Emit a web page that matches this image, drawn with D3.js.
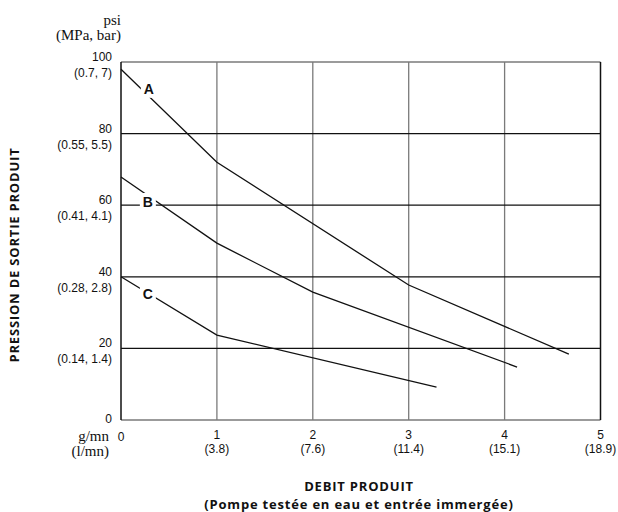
<!DOCTYPE html>
<html lang="fr">
<head>
<meta charset="UTF-8">
<title>Pression de sortie produit</title>
<script src="https://d3js.org/d3.v7.min.js"></script>
<style>
  body { margin: 0; background: #fff; }
  .tick-txt { font-family: "Liberation Sans", Arial, sans-serif; font-size: 12px; fill: #111; }
  .unit-txt { font-family: "Liberation Serif", "Times New Roman", serif; font-size: 15px; fill: #111; }
  .title-txt { font-family: "Open Sans", sans-serif; font-size: 13px; font-weight: bold; fill: #111; letter-spacing: 0.8px; }
  .curve-lbl { font-family: "Liberation Sans", Arial, sans-serif; font-size: 14px; font-weight: bold; fill: #111; }
</style>
</head>
<body>
<div id="chart"></div>
<script>
// flow (gallons/min) and litres/min equivalents
const flowTicks = [0, 1, 2, 3, 4, 5];
const flowLpm = ["", "(3.8)", "(7.6)", "(11.4)", "(15.1)", "(18.9)"];
// pressure psi and (MPa, bar)
const psiTicks = [0, 20, 40, 60, 80, 100];
const psiMetric = ["", "(0.14, 1.4)", "(0.28, 2.8)", "(0.41, 4.1)", "(0.55, 5.5)", "(0.7, 7)"];

// curves [gpm, psi]
const curveA = [[0, 98], [1, 72], [3, 37.7], [4.67, 18.4]];
const curveB = [[0, 67.9], [1, 49.4], [2, 35.7], [4.13, 14.8]];
const curveC = [[0, 40], [1, 23.7], [3.29, 9.2]];
const curveNames = ["A", "B", "C"];
const labelAt = [[0.29, 92.5], [0.28, 60.9], [0.28, 35.2]];

const W = 618, H = 512;
const svg = d3.select("#chart").append("svg")
    .attr("width", W).attr("height", H);

const x = d3.scaleLinear().domain([0, 5]).range([121, 600.5]);
const y = d3.scaleLinear().domain([0, 100]).range([420, 62]);

// vertical grid (gray)
svg.append("g")
    .selectAll("line")
    .data(flowTicks.slice(1, 5))
    .join("line")
    .attr("x1", d => x(d)).attr("x2", d => x(d))
    .attr("y1", y(100)).attr("y2", y(0))
    .attr("stroke", "#7a7a7a").attr("stroke-width", 1.3);

// horizontal grid (black)
svg.append("g")
    .selectAll("line")
    .data(psiTicks.slice(1, 5))
    .join("line")
    .attr("x1", x(0)).attr("x2", x(5))
    .attr("y1", d => y(d)).attr("y2", d => y(d))
    .attr("stroke", "#111").attr("stroke-width", 1.2);

// frame: top + bottom gray, left + right black
svg.append("line").attr("x1", x(0)).attr("x2", x(5)).attr("y1", y(100)).attr("y2", y(100))
    .attr("stroke", "#7a7a7a").attr("stroke-width", 1.5);
svg.append("line").attr("x1", x(0)).attr("x2", x(5)).attr("y1", y(0)).attr("y2", y(0))
    .attr("stroke", "#7a7a7a").attr("stroke-width", 1.5);
svg.append("line").attr("x1", x(0)).attr("x2", x(0)).attr("y1", y(100)).attr("y2", y(0))
    .attr("stroke", "#111").attr("stroke-width", 1.5);
svg.append("line").attr("x1", x(5)).attr("x2", x(5)).attr("y1", y(100)).attr("y2", y(0))
    .attr("stroke", "#111").attr("stroke-width", 1.5);

// curves
const line = d3.line().x(d => x(d[0])).y(d => y(d[1]));
svg.append("g")
    .selectAll("path")
    .data([curveA, curveB, curveC])
    .join("path")
    .attr("d", line)
    .attr("fill", "none")
    .attr("stroke", "#111")
    .attr("stroke-width", 1.3);

// curve letters with white knock-out behind
const lbl = svg.append("g")
    .selectAll("g")
    .data(curveNames)
    .join("g")
    .attr("transform", (d, i) => `translate(${x(labelAt[i][0])}, ${y(labelAt[i][1])})`);
lbl.append("rect")
    .attr("x", -8).attr("y", -9).attr("width", 16).attr("height", 18)
    .attr("fill", "#fff");
lbl.append("text")
    .attr("class", "curve-lbl")
    .attr("text-anchor", "middle")
    .attr("dy", "0.36em")
    .text(d => d);

// y tick labels
const yl = svg.append("g");
yl.selectAll(".psi")
    .data(psiTicks)
    .join("text")
    .attr("class", "tick-txt")
    .attr("text-anchor", "end")
    .attr("x", 112)
    .attr("y", d => d === 0 ? y(d) + 3 : y(d) - 1)
    .text(d => d);
yl.selectAll(".met")
    .data(psiTicks)
    .join("text")
    .attr("class", "tick-txt")
    .attr("text-anchor", "end")
    .attr("x", 112)
    .attr("y", d => y(d) + 15)
    .text((d, i) => psiMetric[i]);

// x tick labels
const xl = svg.append("g");
xl.selectAll(".gpm")
    .data(flowTicks)
    .join("text")
    .attr("class", "tick-txt")
    .attr("text-anchor", "middle")
    .attr("x", d => x(d))
    .attr("y", d => d === 0 ? 441 : 439)
    .text(d => d);
xl.selectAll(".lpm")
    .data(flowTicks)
    .join("text")
    .attr("class", "tick-txt")
    .attr("text-anchor", "middle")
    .attr("x", d => x(d))
    .attr("y", 453)
    .text((d, i) => flowLpm[i]);

// unit labels
svg.append("text").attr("class", "unit-txt").attr("text-anchor", "end")
    .attr("x", 121).attr("y", 25).text("psi");
svg.append("text").attr("class", "unit-txt").attr("text-anchor", "end")
    .attr("x", 121).attr("y", 40).text("(MPa, bar)");
svg.append("text").attr("class", "unit-txt").attr("text-anchor", "end")
    .attr("x", 109).attr("y", 441).text("g/mn");
svg.append("text").attr("class", "unit-txt").attr("text-anchor", "end")
    .attr("x", 109).attr("y", 456).text("(l/mn)");

// axis titles
svg.append("text").attr("class", "title-txt")
    .attr("transform", "translate(18.5, 255) rotate(-90)")
    .attr("text-anchor", "middle")
    .text("PRESSION DE SORTIE PRODUIT");
svg.append("text").attr("class", "title-txt")
    .attr("text-anchor", "middle")
    .attr("x", 359).attr("y", 491)
    .text("DEBIT PRODUIT");
svg.append("text").attr("class", "title-txt")
    .attr("text-anchor", "middle")
    .attr("x", 359).attr("y", 509)
    .text("(Pompe testée en eau et entrée immergée)");
</script>
</body>
</html>
